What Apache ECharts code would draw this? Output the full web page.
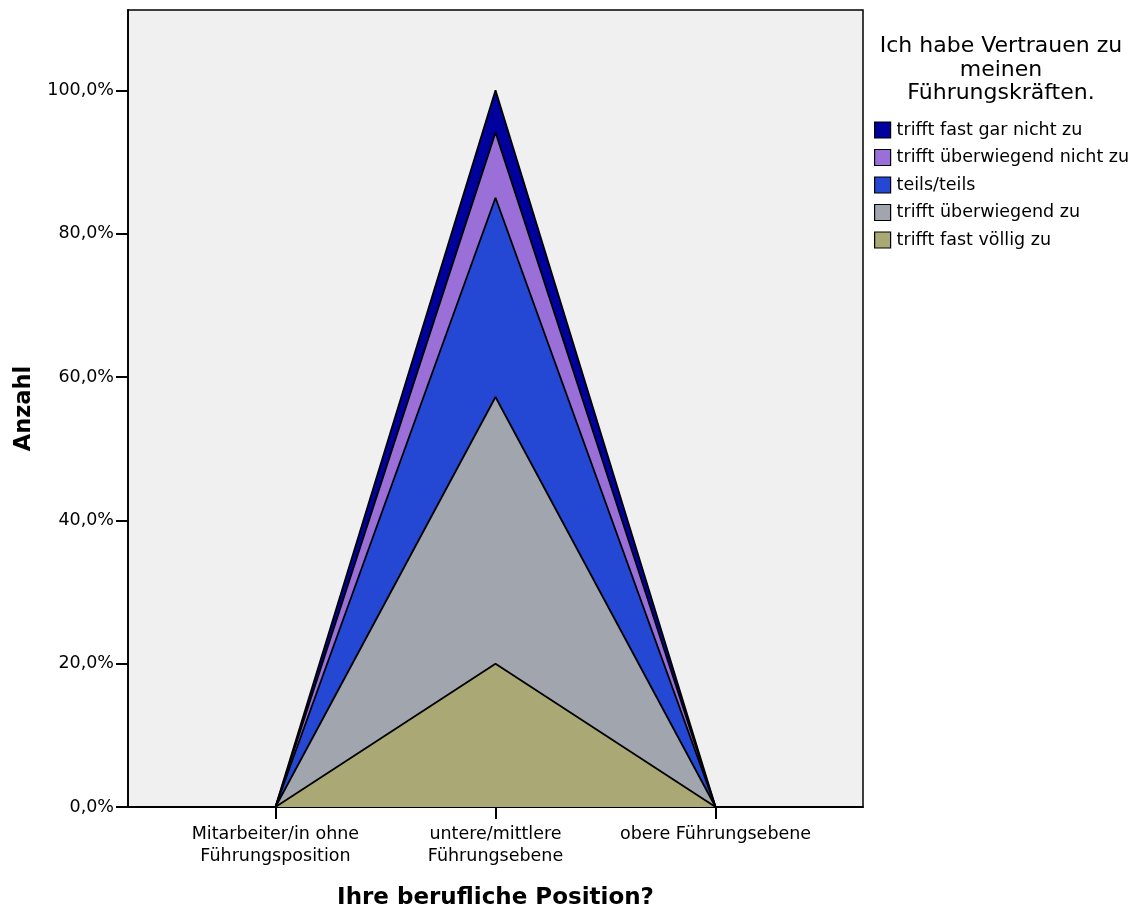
<!DOCTYPE html>
<html>
<head>
<meta charset="utf-8">
<script src="https://cdn.jsdelivr.net/npm/echarts@6/dist/echarts.min.js"></script>
<style>html,body{margin:0;padding:0;background:#fff}#c{width:1135px;height:913px}</style>
</head>
<body>
<div id="c"></div>
<script>
const categories = ['Mitarbeiter/in ohne\nFührungsposition', 'untere/mittlere\nFührungsebene', 'obere Führungsebene'];
const seriesNames = ['trifft fast völlig zu', 'trifft überwiegend zu', 'teils/teils', 'trifft überwiegend nicht zu', 'trifft fast gar nicht zu'];
const colors = ['#aaa874', '#a1a5ae', '#2448d4', '#9a70d8', '#00009c'];
const valFastVoellig = [0, 20.0, 0];
const valUeberwiegend = [0, 37.2, 0];
const valTeils = [0, 27.8, 0];
const valUeberwiegendNicht = [0, 9.1, 0];
const valFastGarNicht = [0, 5.9, 0];
const allValues = [valFastVoellig, valUeberwiegend, valTeils, valUeberwiegendNicht, valFastGarNicht];
const yTicks = [0, 20, 40, 60, 80, 100];

const font = '"DejaVu Sans", "Liberation Sans", Arial, sans-serif';
const chart = echarts.init(document.getElementById('c'), null, {renderer: 'canvas'});

// cumulative (stacked) tops, bottom series first
const cumulative = [];
allValues.forEach((arr, i) => {
  cumulative.push(arr.map((v, j) => v + (i > 0 ? cumulative[i - 1][j] : 0)));
});
const n = seriesNames.length;
// lower stack levels are painted above higher ones
const series = seriesNames.map((name, i) => ({
  name: name,
  type: 'line',
  symbol: 'none',
  z: 2 + (n - i),
  data: cumulative[i].map((v, j) => [j, v]),
  lineStyle: {color: '#000', width: 1.8},
  itemStyle: {color: colors[i], borderColor: '#000', borderWidth: 1},
  areaStyle: {color: colors[i], opacity: 1},
  emphasis: {disabled: true}
}));

chart.setOption({
  animation: false,
  backgroundColor: '#fff',
  title: {
    text: 'Ich habe Vertrauen zu\nmeinen\nFührungskräften.',
    left: 996, top: 30, textAlign: 'center',
    textStyle: {fontFamily: font, fontSize: 22, fontWeight: 'normal', color: '#000', lineHeight: 23.5, align: 'center'}
  },
  legend: {
    orient: 'vertical', left: 874, top: 121, padding: 0,
    data: seriesNames.slice().reverse(),
    icon: 'rect', itemWidth: 16, itemHeight: 16, itemGap: 9.5,
    itemStyle: {borderColor: '#000', borderWidth: 1.2},
    textStyle: {fontFamily: font, fontSize: 17.5, color: '#000', lineHeight: 16, padding: [0, 0, 0, 1]}
  },
  grid: {
    left: 128, top: 10, width: 735, height: 797,
    outerBoundsMode: 'none', containLabel: false,
    show: true, backgroundColor: '#f0f0f0', borderColor: '#000', borderWidth: 1.5
  },
  xAxis: {
    type: 'value', min: -0.67, max: 2.67,
    name: 'Ihre berufliche Position?', nameLocation: 'middle', nameGap: 80,
    nameTextStyle: {fontFamily: font, fontSize: 23, fontWeight: 'bold', color: '#000'},
    axisLine: {show: true, onZero: false, lineStyle: {color: '#000', width: 1.8}},
    axisTick: {show: true, length: 12, lineStyle: {color: '#000', width: 2}, customValues: [0, 1, 2]},
    axisLabel: {customValues: [0, 1, 2], formatter: v => categories[Math.round(v)], fontFamily: font, fontSize: 17.5, color: '#000', margin: 16, lineHeight: 22},
    splitLine: {show: false}
  },
  yAxis: {
    type: 'value', min: 0, max: 111.2,
    name: 'Anzahl', nameLocation: 'middle', nameGap: 92,
    nameTextStyle: {fontFamily: font, fontSize: 22.5, fontWeight: 'bold', color: '#000'},
    axisLine: {show: true, onZero: false, lineStyle: {color: '#000', width: 1.8}},
    axisTick: {show: true, length: 12, lineStyle: {color: '#000', width: 2}, customValues: yTicks},
    axisLabel: {customValues: yTicks, formatter: v => v.toFixed(1).replace('.', ',') + '%', fontFamily: font, fontSize: 17.5, color: '#000', margin: 14},
    splitLine: {show: false}
  },
  series: series
});
</script>
</body>
</html>
